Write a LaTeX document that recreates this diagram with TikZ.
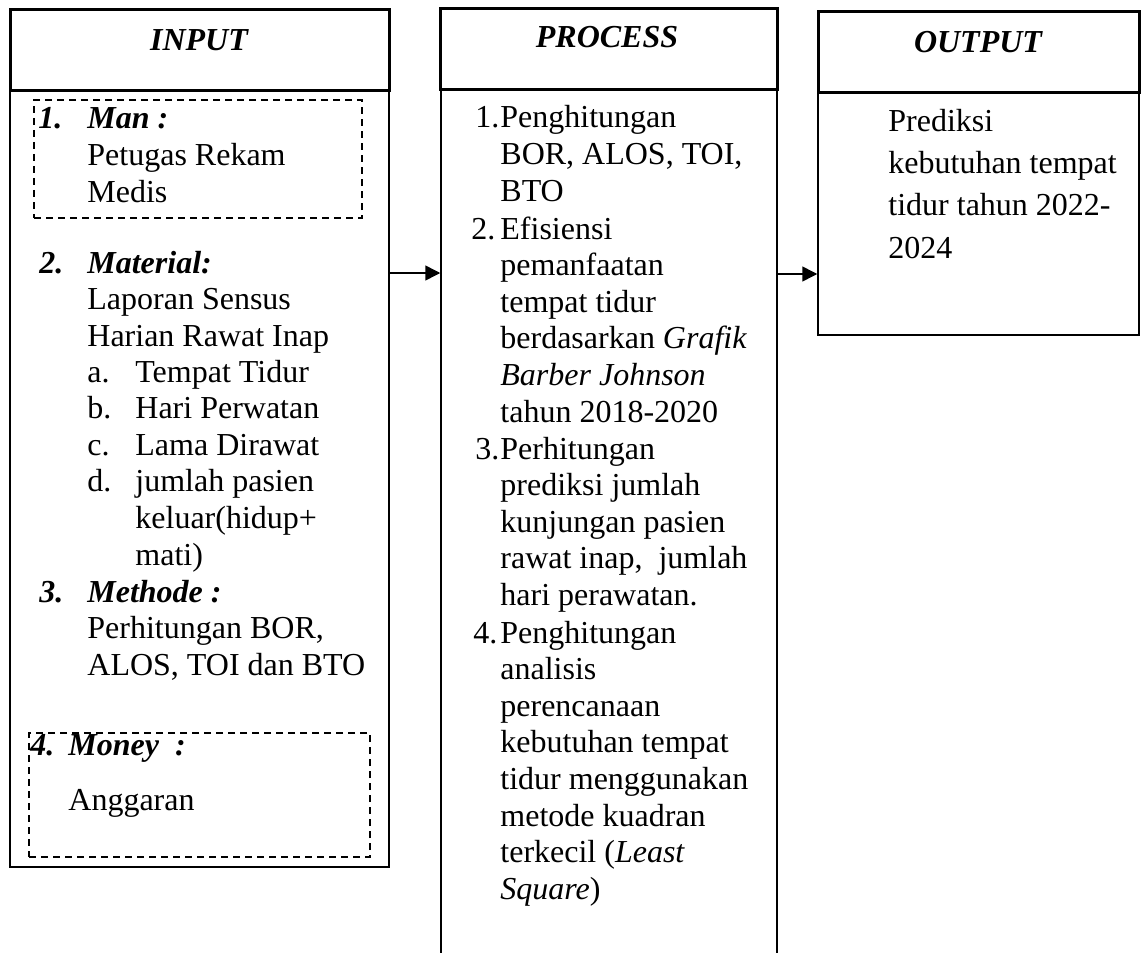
\documentclass[tikz,border=0pt]{standalone}
\usepackage{fontspec}
\setmainfont{Liberation Serif}
\usetikzlibrary{fit,arrows.meta}
\tikzset{
  headbox/.style={draw, line width=1.5pt, inner sep=0pt},
  bodybox/.style={draw, line width=0.75pt, inner sep=0pt},
  dashbox/.style={draw, line width=1pt, dash pattern=on 3.5pt off 2.5pt, inner sep=0pt},
  txt/.style={anchor=base west, inner sep=0pt, text width=#1, align=flush left, font=\fontsize{16}{18.3}\selectfont},
  txt/.default=170pt,
  otxt/.style={anchor=base west, inner sep=0pt, text width=#1, align=flush left, font=\fontsize{16}{21}\selectfont},
  otxt/.default=170pt,
  num/.style={anchor=base west, inner sep=0pt, font=\fontsize{16}{18.3}\selectfont},
  bnum/.style={anchor=base west, inner sep=0pt, font=\fontsize{16}{18.3}\selectfont\bfseries\itshape},
  title/.style={anchor=base, inner sep=0pt, font=\fontsize{16}{18.3}\selectfont\bfseries\itshape},
  arr/.style={line width=0.75pt, -{Triangle[length=7.5pt,width=7.5pt]}},
}
\begin{document}
\begin{tikzpicture}[x=0.5pt, y=-0.5pt]
\useasboundingbox (0,0) rectangle (1143,952);
\clip (0,0) rectangle (1143,952);
% boxes
\node[bodybox, fit={(10,91)(389,867)}] (inbody) {};
\node[headbox, fit={(10,10)(389,91)}] (inhead) {};
\node[dashbox, fit={(34,100)(362,218)}] (dashman) {};
\node[dashbox, fit={(29,733)(370,857)}] (dashmoney) {};
\node[bodybox, fit={(441,90)(777,980)}] (procbody) {};
\node[headbox, fit={(440,9)(777,90)}] (prochead) {};
\node[bodybox, fit={(818,93)(1139,335)}] (outbody) {};
\node[headbox, fit={(818,12)(1139,93)}] (outhead) {};
% arrows
\coordinate (a1) at (0,273);
\coordinate (a2) at (0,274);
\draw[arr] (inbody.east |- a1) -- (procbody.west |- a1);
\draw[arr] (procbody.east |- a2) -- (outbody.west |- a2);
% titles
\node[title] (tin) at (199,51) {INPUT};
\node[title] (tproc) at (607,48) {PROCESS};
\node[title] (tout) at (978,53) {OUTPUT};
% input text
\node[bnum] (n1) at (38,129) {1.};
\node[txt] (man) at (87,129) {\textbf{\textit{Man :}}\\Petugas Rekam\\Medis};
\node[bnum] (n2) at (39,273) {2.};
\node[txt] (mat) at (87,273) {\textbf{\textit{Material:}}\\Laporan Sensus\\Harian Rawat Inap};
\node[txt=30pt] (abcd) at (87,382) {a.\\b.\\c.\\d.};
\node[txt=130pt] (items) at (135,382) {Tempat Tidur\\Hari Perwatan\\Lama Dirawat\\jumlah pasien\\keluar(hidup+\\mati)};
\node[bnum] (n3) at (39,602) {3.};
\node[txt] (meth) at (87,602) {\textbf{\textit{Methode :}}\\Perhitungan BOR,\\ALOS, TOI dan BTO};
\node[bnum] (n4) at (30,755) {4.};
\node[bnum] (money) at (68,755) {Money\ \ :};
\node[num] (angg) at (68,810) {Anggaran};
% process text
\node[num] (p1) at (475,128) {1.};
\node[txt] (pt1) at (500,128) {Penghitungan\\BOR, ALOS, TOI,\\BTO};
\node[num] (p2) at (471,239) {2.};
\node[txt] (pt2) at (500,239) {Efisiensi\\pemanfaatan\\tempat tidur\\berdasarkan \textit{Grafik}\\\textit{Barber Johnson}\\tahun 2018-2020};
\node[num] (p3) at (475,459) {3.};
\node[txt] (pt3) at (500,459) {Perhitungan\\prediksi jumlah\\kunjungan pasien\\rawat inap,\ \ jumlah\\hari perawatan.};
\node[num] (p4) at (473,643) {4.};
\node[txt] (pt4) at (500,643) {Penghitungan\\analisis\\perencanaan\\kebutuhan tempat\\tidur menggunakan\\metode kuadran\\terkecil (\textit{Least}\\\textit{Square})};
% output text
\node[otxt] (ot) at (888,132) {Prediksi\\kebutuhan tempat\\tidur tahun 2022-\\2024};
\end{tikzpicture}
\end{document}
